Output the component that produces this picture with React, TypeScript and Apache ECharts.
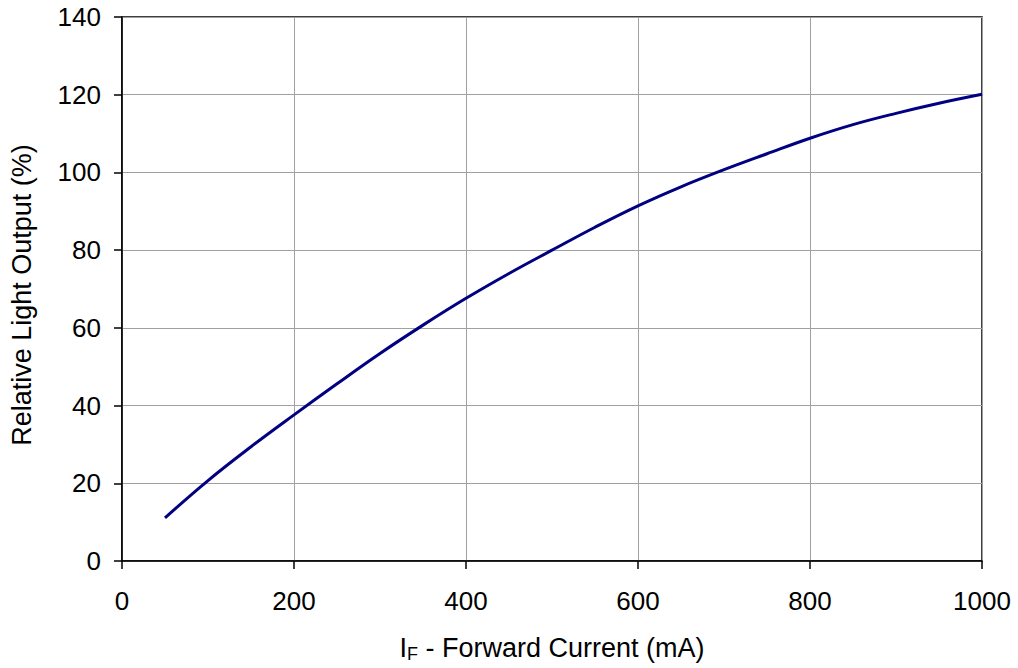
import React, { useEffect, useRef } from "react";
import * as echarts from "echarts";

const currentMA = [50, 100, 150, 200, 250, 300, 350, 400, 450, 500, 550, 600, 650, 700, 750, 800, 850, 900, 950, 1000];
const lightOutput = [11.1, 20.7, 29.4, 37.6, 45.6, 53.4, 60.7, 67.6, 74.0, 80.0, 85.9, 91.4, 96.3, 100.7, 104.8, 108.8, 112.3, 115.2, 117.8, 120.1];
const yTicks = { min: 0, max: 140, interval: 20 };
const xTicks = { min: 0, max: 1000, interval: 200 };

export default function App() {
  const ref = useRef<HTMLDivElement>(null);
  useEffect(() => {
    if (!ref.current) return;
    const chart = echarts.init(ref.current, null, { renderer: "svg" });
    const font = "'Liberation Sans', Arial, sans-serif";
    chart.setOption({
      animation: false,
      backgroundColor: "#ffffff",
      grid: {
        left: 118,
        top: 17,
        right: 36,
        bottom: 104,
        show: true,
        borderColor: "#000000",
        borderWidth: 1.5,
        backgroundColor: "transparent",
      },
      xAxis: {
        type: "value",
        min: xTicks.min,
        max: xTicks.max,
        interval: xTicks.interval,
        name: "{a|I}{sub|F}{a| - Forward Current (mA)}",
        nameLocation: "middle",
        nameGap: 72,
        nameTextStyle: {
          rich: {
            a: { fontSize: 27, color: "#000", fontFamily: font },
            sub: { fontSize: 18, color: "#000", fontFamily: font, verticalAlign: "bottom", padding: [12, 0, 0, 0] },
          },
        },
        axisLine: { show: true, lineStyle: { color: "#000", width: 1.5 } },
        axisTick: { show: true, inside: false, length: 8, lineStyle: { color: "#000", width: 1.5 } },
        axisLabel: { color: "#000", fontSize: 26, fontFamily: font, margin: 27, formatter: (v: number) => String(v) },
        splitLine: { show: true, lineStyle: { color: "#a0a0a0", width: 1 } },
      },
      yAxis: {
        type: "value",
        min: yTicks.min,
        max: yTicks.max,
        interval: yTicks.interval,
        name: "Relative Light Output (%)",
        nameLocation: "middle",
        nameGap: 87,
        nameRotate: 90,
        nameTextStyle: { color: "#000", fontSize: 27, fontFamily: font, padding: [0, 12, 0, 0] },
        axisLine: { show: true, lineStyle: { color: "#000", width: 1.5 } },
        axisTick: { show: true, inside: false, length: 8, lineStyle: { color: "#000", width: 1.5 } },
        axisLabel: { color: "#000", fontSize: 26, fontFamily: font, margin: 21 },
        splitLine: { show: true, lineStyle: { color: "#a0a0a0", width: 1 } },
      },
      series: [
        {
          type: "line",
          data: currentMA.map((x, i) => [x, lightOutput[i]]),
          smooth: 0.4,
          showSymbol: false,
          lineStyle: { color: "#000080", width: 3 },
        },
      ],
    });
    return () => chart.dispose();
  }, []);
  return (
    <div
      ref={ref}
      style={{ position: "fixed", left: 0, top: 0, width: 1018, height: 668 }}
    />
  );
}
